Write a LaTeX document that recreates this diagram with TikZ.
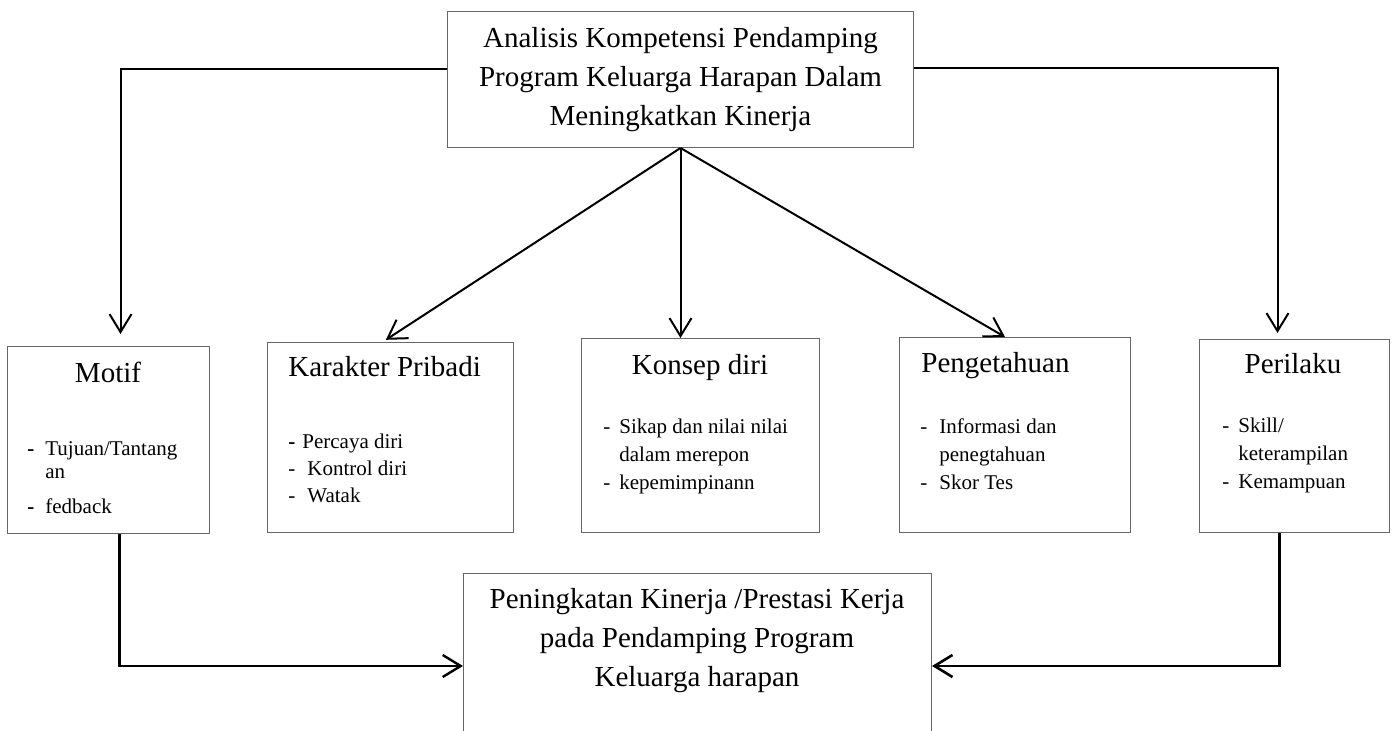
\documentclass[tikz,border=0pt]{standalone}
\usepackage{fontspec}
\setmainfont{Liberation Serif}
\usepackage{tikz}
\usetikzlibrary{
	arrows.meta
}

\newcommand{\itm}[2][8pt]{\makebox[#1][l]{-}#2}
\newcommand{\itmb}[2][8pt]{\makebox[#1][l]{\textbf{-}}#2}
\newcommand{\itmcont}[2][8pt]{\hspace*{#1}#2}

\tikzset{
	card/.style={draw=black!60, line width=0.5pt, inner sep=0pt, anchor=north west},
	headtext/.style={font=\fontsize{14.5}{19.5}\selectfont, align=center, inner sep=0pt},
	boxtitle/.style={font=\fontsize{14.5}{17}\selectfont, inner sep=0pt},
	itemlist/.style={font=\fontsize{10.5}{14}\selectfont, align=left, inner sep=0pt, anchor=north west},
	link/.style={line width=1pt, -{Straight Barb[length=9pt,width=11pt]}},
	hvpath/.style={to path={-| (\tikztotarget)}},
	vhpath/.style={to path={|- (\tikztotarget)}}
}

\begin{document}
\begin{tikzpicture}[x=0.5pt, y=-0.5pt]
	\useasboundingbox (0,0) rectangle (1392,731);
	\clip (0,0) rectangle (1392,731);

	% boxes
	\node[card, headtext, minimum width=233pt, minimum height=68pt] (head) at (447,11)
		{Analisis Kompetensi Pendamping\\Program Keluarga Harapan Dalam\\Meningkatkan Kinerja};

	\node[card, minimum width=101pt,   minimum height=93.5pt] (motif) at (7,346)    {};
	\node[card, minimum width=123pt,   minimum height=95pt]   (kar)   at (267,342)  {};
	\node[card, minimum width=119pt,   minimum height=97pt]   (kon)   at (581,338)  {};
	\node[card, minimum width=115.5pt, minimum height=97.5pt] (pen)   at (899,337)  {};
	\node[card, minimum width=95pt,    minimum height=96.5pt] (peri)  at (1199,339) {};

	\node[card, minimum width=234pt, minimum height=93.5pt] (goal) at (463,573) {};
	\node[headtext] (goal-text) at (697,640.5)
		{Peningkatan Kinerja /Prestasi Kerja\\pada Pendamping Program\\Keluarga harapan};

	% titles
	\node[boxtitle, anchor=base]      (motif-title) at (108,383)  {Motif};
	\node[boxtitle, anchor=base west] (kar-title)   at (288,377)  {Karakter Pribadi};
	\node[boxtitle, anchor=base]      (kon-title)   at (700,375)  {Konsep diri};
	\node[boxtitle, anchor=base west] (pen-title)   at (921,373)  {Pengetahuan};
	\node[boxtitle, anchor=base]      (peri-title)  at (1293,374) {Perilaku};

	% lists
	\node[itemlist, font=\fontsize{10.5}{11.5}\selectfont] (motif-list) at (27,441)
		{\itmb[9pt]{Tujuan/Tantang}\\\itmcont[9pt]{an}\\[6pt]\itmb[9pt]{fedback}};
	\node[itemlist, font=\fontsize{10.5}{13.5}\selectfont] (kar-list) at (288,434)
		{\itmb[7pt]{Percaya diri}\\\itm[9.5pt]{Kontrol diri}\\\itm[9.5pt]{Watak}};
	\node[itemlist] (kon-list) at (603,419)
		{\itm{Sikap dan nilai nilai}\\\itmcont{dalam merepon}\\\itm{kepemimpinann}};
	\node[itemlist] (pen-list) at (920,418)
		{\itm[9.5pt]{Informasi dan}\\\itmcont[9.5pt]{penegtahuan}\\\itm[9.5pt]{Skor Tes}};
	\node[itemlist] (peri-list) at (1222,418)
		{\itm{Skill/}\\\itmcont{keterampilan}\\\itm{Kemampuan}};

	% connectors
	\path[link]
		([yshift=5pt]head.west)      edge[hvpath, shorten >=6pt] ([xshift=6pt]motif.north)
		([yshift=5.5pt]head.east)    edge[hvpath, shorten >=3pt] ([xshift=-8.5pt]peri.north)
		(head.south)                 edge[shorten >=2pt]         ([xshift=-4pt]kar.north)
		(head.south)                 edge                        (head.south |- kon.north)
		(head.south)                 edge                        ([xshift=-5pt]pen.north)
		([xshift=5.5pt]motif.south)  edge[vhpath, line width=1.2pt] ([yshift=-46.5pt]goal.north west)
		([xshift=-7.5pt]peri.south)  edge[vhpath, line width=1.3pt] ([yshift=-46.5pt]goal.north east)
	;
\end{tikzpicture}
\end{document}
